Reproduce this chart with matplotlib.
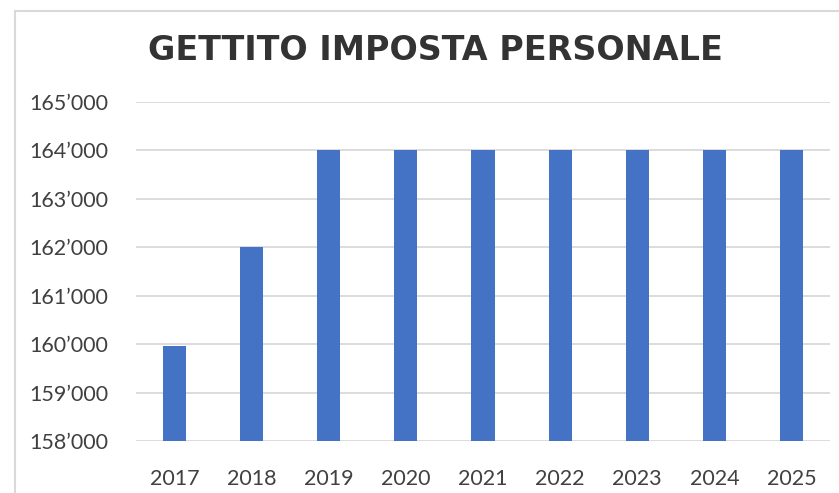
import matplotlib.pyplot as plt
from matplotlib.patches import Rectangle
from matplotlib.ticker import FuncFormatter

# data
anni = ['2017', '2018', '2019', '2020', '2021', '2022', '2023', '2024', '2025']
gettito = [159970, 162000, 164000, 164000, 164000, 164000, 164000, 164000, 164000]

W, H = 839, 493
fig = plt.figure(figsize=(W / 100, H / 100), dpi=100)
plt.rcParams['font.family'] = ['Lato', 'DejaVu Sans']

# light frame around the chart area (right and bottom edges fall outside the picture)
fig.patches.append(Rectangle((14.5 / W, -0.1), 1, 1.1 - 11 / H, transform=fig.transFigure,
                             fill=False, edgecolor='#d9d9d9', linewidth=1.5))

ax = fig.add_axes([136 / W, 1 - 441 / H, (830 - 136) / W, (441 - 102) / H])
x = range(len(anni))
ax.bar(x, gettito, width=0.3, color='#4472C4', zorder=3)

ax.set_xlim(-0.5, len(anni) - 0.5)
ax.set_ylim(158000, 165000)
ax.set_yticks(range(158000, 165001, 1000))
ax.yaxis.set_major_formatter(FuncFormatter(lambda v, p: f"{int(v):,}".replace(',', '\u2019')))
ax.set_xticks(list(x))
ax.set_xticklabels(anni)

ax.grid(axis='y', color='#d9d9d9', linewidth=1.3, zorder=0)
for s in ax.spines.values():
    s.set_visible(False)
ax.tick_params(axis='both', length=0, labelsize=15.5, labelcolor='#404040')
ax.tick_params(axis='y', pad=20)
ax.tick_params(axis='x', pad=20)

fig.text(435 / W, 1 - 50 / H, 'GETTITO IMPOSTA PERSONALE', ha='center', va='center',
         fontsize=24, fontweight='bold', color='#333333', family=['DejaVu Sans'])

fig.savefig('out.png', dpi=100)
